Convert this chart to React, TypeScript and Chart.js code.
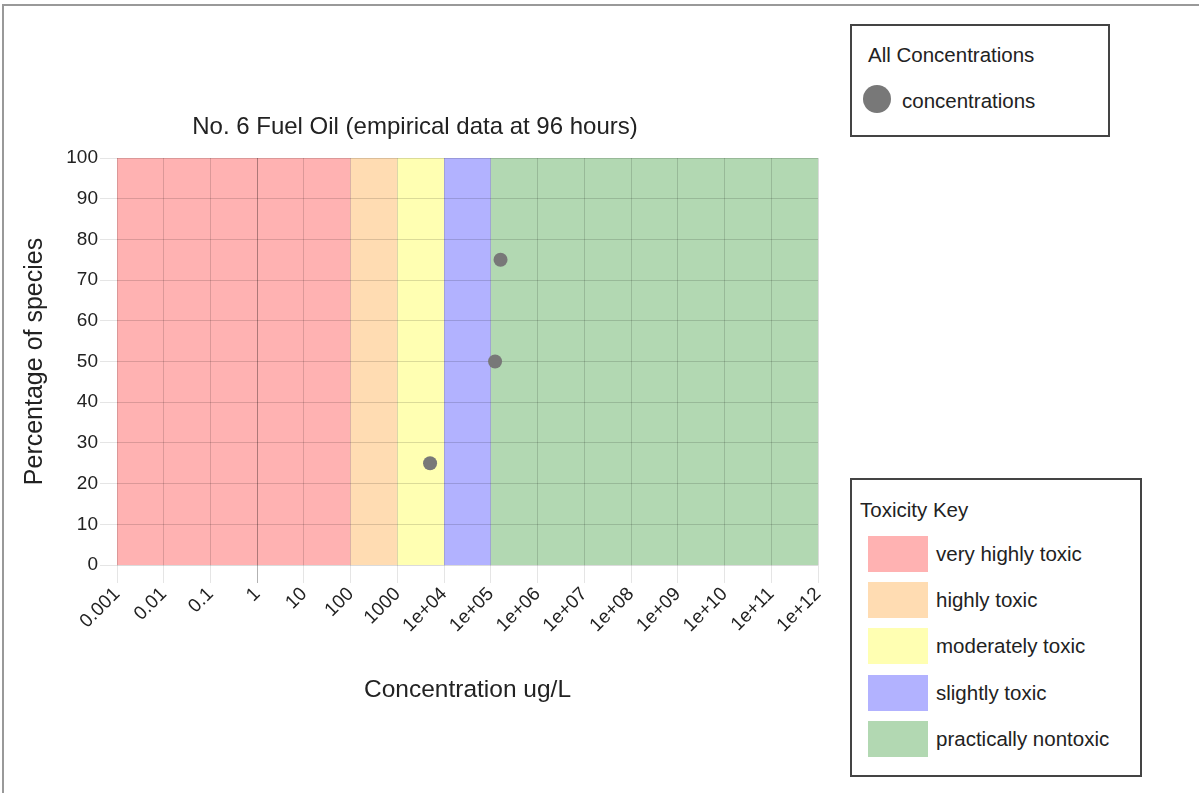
import React, { useEffect, useRef } from "react";
import { Chart, registerables } from "chart.js";

Chart.register(...registerables);

const FONT = "'Liberation Sans', Arial, Helvetica, sans-serif";

const chartTitle = "No. 6 Fuel Oil (empirical data at 96 hours)";
const xAxisTitle = "Concentration ug/L";
const yAxisTitle = "Percentage of species";

const xTickValues = [1e-3, 1e-2, 1e-1, 1, 10, 100, 1000, 1e4, 1e5, 1e6, 1e7, 1e8, 1e9, 1e10, 1e11, 1e12];
const xTickLabels = ["0.001", "0.01", "0.1", "1", "10", "100", "1000", "1e+04", "1e+05", "1e+06", "1e+07", "1e+08", "1e+09", "1e+10", "1e+11", "1e+12"];

const yMin = 0;
const yMax = 100;
const yStep = 10;

const bandLabels = ["very highly toxic", "highly toxic", "moderately toxic", "slightly toxic", "practically nontoxic"];
const bandStarts = [0.001, 100, 1000, 1e4, 1e5];
const bandEnds = [100, 1000, 1e4, 1e5, 1e12];
const bandColors = ["#ffb2b2", "#ffdcb2", "#ffffb2", "#b2b2ff", "#b2d8b2"];

const seriesName = "concentrations";
const legendTitle = "All Concentrations";
const keyTitle = "Toxicity Key";
const concentrations = [5000, 123000, 161000];
const percentages = [25, 50, 75];
const pointColor = "#787878";

const bandsPlugin = {
  id: "bands",
  beforeDraw(chart: any) {
    const { ctx, chartArea, scales } = chart;
    const x = scales.x;
    ctx.save();
    for (let i = 0; i < bandStarts.length; i++) {
      const x0 = x.getPixelForValue(bandStarts[i]);
      const x1 = x.getPixelForValue(bandEnds[i]);
      ctx.fillStyle = bandColors[i];
      ctx.fillRect(x0, chartArea.top, x1 - x0, chartArea.bottom - chartArea.top);
    }
    ctx.restore();
  },
};

export default function App() {
  const canvasRef = useRef<HTMLCanvasElement>(null);

  useEffect(() => {
    if (!canvasRef.current) return;
    const chart = new Chart(canvasRef.current, {
      type: "scatter",
      data: {
        datasets: [
          {
            label: seriesName,
            data: concentrations.map((c, i) => ({ x: c, y: percentages[i] })),
            backgroundColor: pointColor,
            borderColor: pointColor,
            pointRadius: 7,
            pointHoverRadius: 7,
            borderWidth: 0,
          },
        ],
      },
      options: {
        animation: false,
        responsive: false,
        devicePixelRatio: 1,
        events: [],
        layout: { padding: { left: 0, top: 158, right: 381, bottom: 0 } },
        plugins: {
          legend: { display: false },
          title: { display: false },
          tooltip: { enabled: false },
        },
        scales: {
          x: {
            type: "logarithmic",
            min: 0.001,
            max: 1e12,
            afterFit: (s: any) => {
              s.height = 228;
            },
            afterBuildTicks: (s: any) => {
              s.ticks = xTickValues.map((v) => ({ value: v }));
            },
            border: { display: false },
            grid: {
              color: (c: any) => (c.tick && c.tick.value === 1 ? "rgba(0,0,0,0.32)" : "rgba(0,0,0,0.14)"),
              tickColor: (c: any) => (c.tick && c.tick.value === 1 ? "rgba(0,0,0,0.3)" : "rgba(0,0,0,0.1)"),
              tickLength: 18,
              lineWidth: 1,
            },
            ticks: {
              autoSkip: false,
              minRotation: 45,
              maxRotation: 45,
              padding: 0,
              color: "#222",
              font: { family: FONT, size: 19 },
              callback: (_v: any, i: number) => xTickLabels[i],
            },
            title: {
              display: true,
              text: xAxisTitle,
              color: "#222",
              font: { family: FONT, size: 24.5 },
              padding: { top: 0, bottom: 88 },
            },
          },
          y: {
            min: yMin,
            max: yMax,
            afterFit: (s: any) => {
              s.width = 117;
            },
            border: { display: false },
            grid: {
              color: "rgba(0,0,0,0.14)",
              tickColor: "rgba(0,0,0,0.1)",
              tickLength: 17,
              lineWidth: 1,
            },
            ticks: {
              stepSize: yStep,
              padding: 2,
              color: "#222",
              font: { family: FONT, size: 19 },
            },
            title: {
              display: true,
              text: yAxisTitle,
              color: "#222",
              font: { family: FONT, size: 25 },
              padding: { top: 20, bottom: 0 },
            },
          },
        },
      },
      plugins: [bandsPlugin],
    });
    return () => chart.destroy();
  }, []);

  const text: React.CSSProperties = {
    position: "absolute",
    fontFamily: FONT,
    color: "#222",
    whiteSpace: "nowrap",
  };

  const swatchTops = [536, 582, 628, 675, 721];
  const LF = 20.5;

  return (
    <div
      style={{
        position: "fixed",
        left: 0,
        top: 0,
        width: 1199,
        height: 793,
        overflow: "hidden",
        background: "#fff",
      }}
    >
      <div
        style={{
          position: "absolute",
          left: 2,
          top: 4,
          width: 1300,
          height: 900,
          border: "2px solid #999",
          boxSizing: "border-box",
        }}
      />
      <canvas
        ref={canvasRef}
        width={1199}
        height={793}
        style={{ position: "absolute", left: 0, top: 0, width: 1199, height: 793 }}
      />
      <div
        style={{
          ...text,
          left: 115,
          width: 600,
          textAlign: "center",
          top: 113.5,
          fontSize: 24,
          lineHeight: "24px",
        }}
      >
        {chartTitle}
      </div>

      <div
        style={{
          position: "absolute",
          left: 850,
          top: 24,
          width: 260,
          height: 113,
          border: "2px solid #444",
          boxSizing: "border-box",
          background: "#fff",
        }}
      />
      <div style={{ ...text, left: 868, top: 44.5, fontSize: LF, lineHeight: "20px" }}>{legendTitle}</div>
      <div
        style={{
          position: "absolute",
          left: 863,
          top: 85,
          width: 28,
          height: 28,
          borderRadius: "50%",
          background: pointColor,
        }}
      />
      <div style={{ ...text, left: 902, top: 91, fontSize: LF, lineHeight: "20px" }}>{seriesName}</div>

      <div
        style={{
          position: "absolute",
          left: 850,
          top: 478,
          width: 292,
          height: 299,
          border: "2px solid #444",
          boxSizing: "border-box",
          background: "#fff",
        }}
      />
      <div style={{ ...text, left: 860, top: 499.5, fontSize: LF, lineHeight: "20px" }}>{keyTitle}</div>
      {bandLabels.map((lab, i) => (
        <React.Fragment key={lab}>
          <div
            style={{
              position: "absolute",
              left: 868,
              top: swatchTops[i],
              width: 60,
              height: 36,
              background: bandColors[i],
            }}
          />
          <div style={{ ...text, left: 936, top: swatchTops[i] + 8, fontSize: LF, lineHeight: "20px" }}>{lab}</div>
        </React.Fragment>
      ))}
    </div>
  );
}
